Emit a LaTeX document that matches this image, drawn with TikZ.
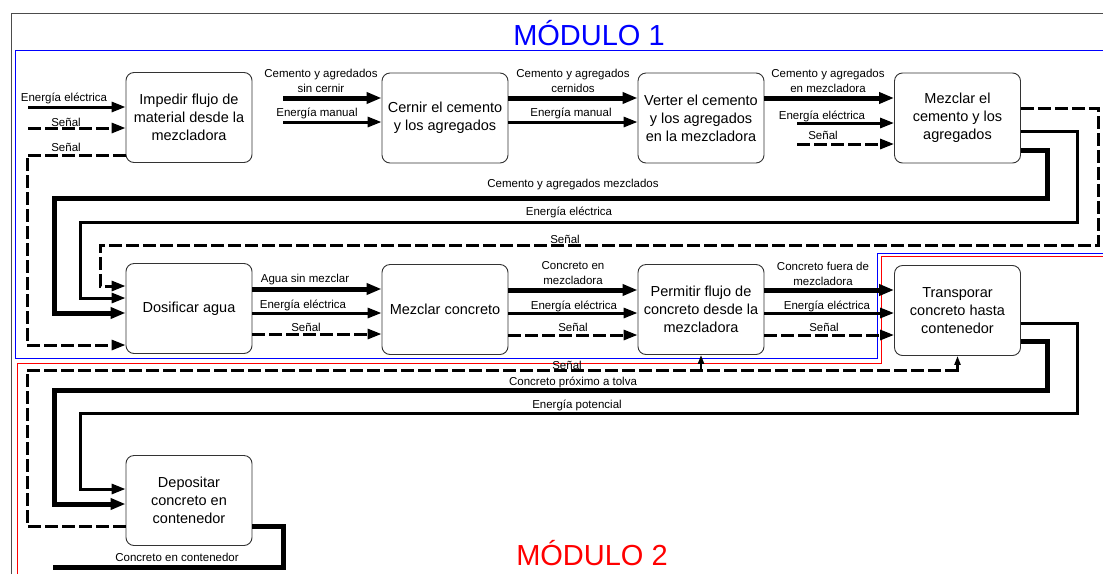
\documentclass[tikz,border=0pt]{standalone}
\usepackage{fontspec}
\setmainfont{Liberation Sans}
\usetikzlibrary{arrows.meta}

\begin{document}
\begin{tikzpicture}[x=1pt,y=-1pt,
  box/.style={draw=black!80, line width=0.9pt, rounded corners=8pt,
    minimum width=126pt, minimum height=90pt, align=center, inner sep=2pt,
    font=\fontsize{14.5}{18}\selectfont},
  lbl/.style={inner sep=0pt, align=center, font=\fontsize{11.5}{15}\selectfont},
  title/.style={inner sep=0pt, font=\fontsize{29}{32}\selectfont},
  mat/.style={line width=5pt, -{Triangle[length=15pt,width=11pt]}},
  ener/.style={line width=3pt, -{Triangle[length=14pt,width=10pt]}},
  sig/.style={line width=3pt, dash pattern=on 13pt off 4pt, -{Triangle[length=14pt,width=10pt]}},
  sigline/.style={line width=3pt, dash pattern=on 13pt off 4pt},
  stem/.style={line width=2.2pt, -{Triangle[length=9pt,width=6pt]}},
  plain/.style={line width=5pt}
]
\useasboundingbox (0,0) rectangle (1103,574);

% frame and module outlines
\draw[black!70, line width=0.8pt] (11,574) -- (11,13) -- (1103,13);
\draw[blue, line width=0.8pt] (1103,50) -- (15,50) -- (15,358) -- (877,358) -- (877,253) -- (1103,253);
\draw[red, line width=0.8pt] (17,574) -- (17,363) -- (881,363) -- (881,256) -- (1103,256);
\node[title, text=blue] (m1) at (589,33) {MÓDULO 1};
\node[title, text=red] (m2) at (592,553) {MÓDULO 2};

% function boxes
\node[box] (b1) at (189,117.5) {Impedir flujo de\\material desde la\\mezcladora};
\node[box] (b2) at (445,118) {Cernir el cemento\\y los agregados};
\node[box] (b3) at (701,118) {Verter el cemento\\y los agregados\\en la mezcladora};
\node[box] (b4) at (957.5,118) {Mezclar el\\cemento y los\\agregados};
\node[box] (b5) at (189,308.5) {Dosificar agua};
\node[box] (b6) at (445,309.5) {Mezclar concreto};
\node[box] (b7) at (701,309.5) {Permitir flujo de\\concreto desde la\\mezcladora};
\node[box] (b8) at (957.5,310.5) {Transporar\\concreto hasta\\contenedor};
\node[box] (b9) at (189,500.5) {Depositar\\concreto en\\contenedor};

% free ends
\coordinate (inE) at (28,107);
\coordinate (inS) at (28,128);
\coordinate (inM) at (283,98);
\coordinate (inH) at (283,122);
\coordinate (inE4) at (797,123);
\coordinate (inS4) at (797,144);
\coordinate (outC) at (53,567);

% row 1
\draw[ener] (inE) -- (b1.west |- inE);
\draw[sig] (inS) -- (b1.west |- inS);
\draw[sig] (b1.west |- 0,155) -- (27,155) -- (27,345) -- (b5.west |- 0,345);
\draw[mat] (inM) -- (b2.west |- inM);
\draw[ener] (inH) -- (b2.west |- inH);
\draw[mat] (b2.east |- 0,98) -- (b3.west |- 0,98);
\draw[ener] (b2.east |- 0,122) -- (b3.west |- 0,122);
\draw[mat] (b3.east |- 0,98) -- (b4.west |- 0,98);
\draw[ener] (inE4) -- (b4.west |- inE4);
\draw[sig] (inS4) -- (b4.west |- inS4);

% returns from Mezclar el cemento to Dosificar agua
\draw[sig] (b4.east |- 0,108) -- (1098,108) -- (1098,245) -- (100,245) -- (100,286) -- (b5.west |- 0,286);
\draw[ener] (b4.east |- 0,131) -- (1077,131) -- (1077,222) -- (80,222) -- (80,298) -- (b5.west |- 0,298);
\draw[mat] (b4.east |- 0,150) -- (1047,150) -- (1047,198) -- (54,198) -- (54,313) -- (b5.west |- 0,313);

% row 2
\draw[mat] (b5.east |- 0,289) -- (b6.west |- 0,289);
\draw[ener] (b5.east |- 0,313) -- (b6.west |- 0,313);
\draw[sig] (b5.east |- 0,334) -- (b6.west |- 0,334);
\draw[mat] (b6.east |- 0,290) -- (b7.west |- 0,290);
\draw[ener] (b6.east |- 0,313) -- (b7.west |- 0,313);
\draw[sig] (b6.east |- 0,335) -- (b7.west |- 0,335);
\draw[mat] (b7.east |- 0,290) -- (b8.west |- 0,290);
\draw[ener] (b7.east |- 0,313) -- (b8.west |- 0,313);
\draw[sig] (b7.east |- 0,335) -- (b8.west |- 0,335);

% returns from Transporar to Depositar
\draw[ener] (b8.east |- 0,323) -- (1077,323) -- (1077,413) -- (80,413) -- (80,489) -- (b9.west |- 0,489);
\draw[mat] (b8.east |- 0,341) -- (1047,341) -- (1047,390) -- (54,390) -- (54,504) -- (b9.west |- 0,504);

% signal from Depositar back up to Permitir and Transporar
\draw[sigline] (b9.west |- 0,526) -- (27,526) -- (27,370) -- (b8.south |- 0,370);
\draw[stem] (b8.south |- 0,371.5) -- (b8.south);
\draw[stem] (b7.south |- 0,371.5) -- (b7.south);

% output of Depositar
\draw[plain] (b9.east |- 0,526) -- (283,526) -- (283,567) -- (outC);

% labels
\node[lbl] (t1) at (64,98) {Energía eléctrica};
\node[lbl] (t2) at (66,122) {Señal};
\node[lbl] (t3) at (66,147) {Señal};
\node[lbl] (t4) at (321,81) {Cemento y agredados\\sin cernir};
\node[lbl] (t5) at (317,113) {Energía manual};
\node[lbl] (t6) at (573,81) {Cemento y agregados\\cernidos};
\node[lbl] (t7) at (571,113) {Energía manual};
\node[lbl] (t8) at (828,81) {Cemento y agregados\\en mezcladora};
\node[lbl] (t9) at (822,116) {Energía eléctrica};
\node[lbl] (t10) at (823,135) {Señal};
\node[lbl] (t11) at (573,185) {Cemento y agregados mezclados};
\node[lbl] (t12) at (569,212) {Energía eléctrica};
\node[lbl] (t13) at (565,239) {Señal};
\node[lbl] (t14) at (305,280) {Agua sin mezclar};
\node[lbl] (t15) at (303,305) {Energía eléctrica};
\node[lbl] (t16) at (306,327) {Señal};
\node[lbl] (t17) at (573,273.5) {Concreto en\\mezcladora};
\node[lbl] (t18) at (574,306) {Energía eléctrica};
\node[lbl] (t19) at (573,327) {Señal};
\node[lbl] (t20) at (823,273.5) {Concreto fuera de\\mezcladora};
\node[lbl] (t21) at (827,306) {Energía eléctrica};
\node[lbl] (t22) at (824,327) {Señal};
\node[lbl] (t23) at (567,365) {Señal};
\node[lbl] (t24) at (573,382) {Concreto próximo a tolva};
\node[lbl] (t25) at (577,405) {Energía potencial};
\node[lbl] (t26) at (177,557) {Concreto en contenedor};
\end{tikzpicture}
\end{document}
